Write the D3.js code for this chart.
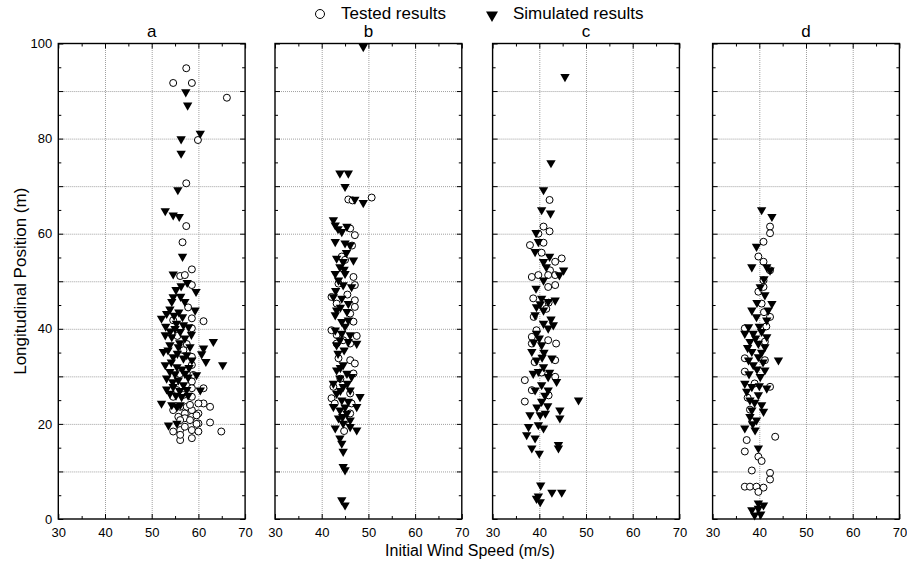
<!DOCTYPE html>
<html>
<head>
<meta charset="utf-8">
<script src="https://cdn.jsdelivr.net/npm/d3@7"></script>
<style>
  body { margin: 0; background: #fff; }
  svg { font-family: "Liberation Sans", Arial, sans-serif; }
  .grid line { stroke: #a0a0a0; stroke-dasharray: 1,1; }
  .grid path { display: none; }
  .ax path { display: none; }
  .ax line { stroke: #000; }
  .ax text { font-size: 13px; fill: #000; }
</style>
</head>
<body>
<svg width="907" height="564"></svg>
<script>
var panelNames = ["a", "b", "c", "d"];
var speedTicks = [30, 40, 50, 60, 70];
var positionTicks = [0, 20, 40, 60, 80, 100];

// [initial wind speed (m/s), longitudinal position (m)]
var testedA = [[57.4,94.8],[54.6,91.7],[58.6,91.7],[66.1,88.6],[59.9,79.7],[57.4,70.6],[57.4,61.6],[56.6,58.2],
  [58.6,52.5],[56.1,51.1],[57.1,51.3],[58.6,49.2],[54.6,41.8],[58.6,42.2],[61.1,41.6],[58.6,40.1],[56.8,35.5],
  [58.6,34.1],[58.6,32.4],[58.9,30.3],[58.6,28.9],[58.6,27.5],[61.1,27.5],[55.4,27.1],[56.8,26.1],[58.6,25.7],
  [54.6,25.7],[61.1,24.3],[62.5,23.6],[60.0,24.3],[56.1,23.6],[57.5,23.6],[58.6,22.9],[54.6,22.9],[60.0,22.2],
  [57.1,22.2],[55.7,21.5],[58.6,21.5],[60.0,20.1],[62.5,20.3],[57.1,21.2],[54.6,18.4],[56.1,18.7],[58.6,18.7],
  [60.0,18.4],[64.9,18.4],[56.1,16.6],[58.6,17.0],[56.1,17.7],[57.1,19.4],[58.2,24.0],[59.6,21.8],[56.1,20.8],
  [58.2,20.8],[59.6,20.0],[57.5,36.8],[55.5,38.5],[57.8,44.5],[56.0,30.5]];
var simulatedA = [[57.3,89.8],[57.7,87.0],[60.4,81.1],[56.3,79.9],[56.3,76.9],[55.6,69.2],[52.9,64.8],[54.6,63.9],
  [55.9,63.6],[56.6,55.2],[54.6,51.5],[57.6,49.7],[56.3,49.0],[59.5,47.8],[54.6,46.7],[57.1,45.7],[54.3,45.7],
  [53.9,44.1],[59.3,43.9],[52.1,42.2],[56.6,42.5],[53.2,43.2],[55.3,41.1],[57.9,40.4],[52.9,38.7],[54.3,38.3],
  [56.1,39.4],[57.1,38.0],[63.2,37.3],[53.9,36.6],[55.7,36.2],[58.2,36.2],[61.1,35.9],[52.5,35.2],[60.7,34.7],
  [54.6,34.1],[56.8,33.8],[58.6,33.4],[61.6,33.1],[65.2,32.4],[52.9,32.4],[55.4,32.0],[53.9,31.0],[57.1,30.6],
  [59.6,30.3],[53.2,29.6],[55.7,29.2],[54.6,27.8],[56.8,28.2],[60.4,27.1],[53.9,26.4],[56.4,25.7],[52.1,24.3],
  [54.3,24.0],[55.4,23.6],[56.1,24.0],[53.6,19.7],[55.4,20.1],[55.0,40.0],[56.0,37.0],[54.0,39.5],[55.5,34.8],
  [57.5,34.5],[54.2,33.0],[56.5,31.5],[55.0,30.5],[58.0,31.8],[54.5,28.8],[57.5,27.2],[55.2,26.0],[53.2,27.3],
  [57.8,29.8],[53.5,35.5],[56.8,40.8],[55.8,43.5],[58.5,38.8],[54.8,42.8],[53.0,40.5],[56.2,46.8],[55.2,48.2],
  [57.8,26.0],[56.0,27.0]];

var testedB = [[45.7,67.2],[46.6,67.0],[50.7,67.6],[46.1,61.1],[47.1,59.7],[44.3,55.2],[45.0,54.5],[46.8,50.9],
  [47.1,49.2],[42.1,46.7],[43.2,45.3],[47.1,46.0],[47.1,44.6],[46.1,43.2],[46.8,41.5],[42.1,39.7],[43.2,38.7],
  [46.1,36.9],[43.2,36.9],[44.6,37.6],[43.6,33.8],[46.1,33.4],[47.1,32.7],[42.5,27.8],[42.1,25.4],[46.1,26.4],
  [46.4,24.3],[46.1,22.2],[45.0,20.8],[46.8,30.6],[44.0,29.5],[45.5,47.2],[47.5,38.5],[42.8,24.3],[44.8,18.5],
  [43.6,49.5],[46.5,57.5]];
var simulatedB = [[48.9,99.3],[43.9,72.7],[45.7,72.7],[45.0,69.9],[47.1,67.2],[48.9,66.5],[42.5,62.9],[42.9,61.8],
  [44.3,60.4],[45.4,61.5],[43.5,61.0],[42.9,58.3],[45.0,58.0],[46.1,57.6],[43.2,54.8],[44.6,54.1],[46.8,54.4],
  [43.9,53.0],[42.9,51.6],[45.0,51.6],[43.6,50.2],[44.6,49.2],[46.4,48.8],[42.5,46.7],[44.3,46.4],[45.7,45.3],
  [43.2,43.9],[45.4,43.6],[42.9,42.9],[44.3,41.5],[45.7,41.8],[42.9,39.7],[44.3,39.0],[46.1,38.7],[43.9,37.6],
  [45.7,37.3],[47.5,36.9],[43.2,36.6],[44.6,32.4],[43.2,31.3],[45.4,30.6],[46.4,29.9],[43.9,29.6],[42.5,28.5],
  [44.6,27.8],[46.1,27.1],[48.2,25.7],[43.2,26.4],[44.3,25.0],[45.7,24.7],[47.5,23.6],[42.5,23.6],[43.9,22.9],
  [45.4,22.2],[43.6,21.2],[46.1,20.8],[44.6,20.1],[46.1,19.4],[42.9,19.1],[47.5,18.7],[43.9,17.0],[44.3,15.9],
  [44.6,14.2],[44.6,11.0],[45.0,10.3],[44.3,4.0],[45.0,2.9],[44.0,44.5],[45.0,40.5],[44.8,35.5],[43.5,34.8],
  [45.5,28.5],[44.0,27.0],[45.0,23.5],[44.5,21.5],[43.0,48.0],[44.8,52.5],[45.3,56.0],[44.0,31.8]];

var testedC = [[42.2,67.1],[40.9,61.5],[42.2,60.5],[39.8,60.0],[40.9,58.1],[38.0,57.6],[44.8,54.8],[43.4,54.1],
  [42.3,52.3],[38.4,50.9],[39.8,51.3],[41.9,51.3],[43.4,51.3],[41.9,48.8],[43.4,49.2],[38.7,46.4],[39.4,39.7],
  [38.4,38.3],[38.4,36.9],[41.9,37.6],[43.6,36.9],[43.4,33.4],[36.9,29.2],[43.4,29.9],[38.4,27.1],[36.9,24.7],
  [40.5,56.0],[42.0,45.5],[38.8,42.5],[41.5,44.2],[40.5,30.8],[42.0,26.0],[39.0,33.0]];
var simulatedC = [[45.5,93.0],[42.5,74.9],[40.9,69.2],[40.5,65.0],[42.4,64.3],[39.3,60.2],[39.8,58.3],[39.1,56.2],
  [42.2,55.2],[40.9,54.1],[41.5,53.0],[45.2,52.3],[44.3,51.3],[39.3,48.5],[40.9,50.2],[40.5,46.4],[41.9,45.7],
  [43.4,46.0],[39.4,44.6],[40.9,43.9],[39.1,42.9],[43.0,40.8],[40.9,41.1],[41.9,40.1],[39.4,39.0],[38.4,35.2],
  [40.5,36.6],[42.7,33.8],[39.4,33.4],[40.9,32.0],[38.7,30.6],[41.9,29.9],[43.7,28.9],[40.5,28.2],[39.1,27.1],
  [41.9,27.1],[48.4,25.0],[40.5,24.7],[44.4,22.9],[41.3,22.2],[38.0,21.9],[40.2,21.9],[44.4,21.2],[39.8,19.8],
  [37.7,19.4],[40.9,19.1],[37.3,17.7],[39.1,17.0],[44.1,15.6],[44.1,14.9],[38.4,14.9],[40.0,13.8],[40.3,7.1],
  [42.7,5.6],[44.8,5.6],[39.4,4.3],[40.2,3.6],[39.8,4.8],[40.0,38.0],[41.0,35.0],[39.8,31.0],[41.2,26.0],
  [39.5,23.5],[41.8,23.8],[40.2,45.2],[42.5,42.0],[38.8,37.2],[40.6,34.0],[42.2,30.8]];

var testedD = [[42.3,61.5],[42.3,60.1],[40.9,58.3],[39.8,55.2],[40.9,54.1],[42.3,52.3],[40.9,50.2],[40.9,48.8],
  [39.8,47.8],[40.5,45.3],[42.3,42.5],[36.9,40.1],[41.2,37.3],[36.9,33.8],[41.2,33.4],[36.9,31.0],[42.3,27.8],
  [43.4,17.3],[37.3,16.6],[36.9,14.2],[38.4,10.2],[42.3,9.7],[42.3,8.3],[36.9,6.8],[38.0,6.8],[39.4,6.8],
  [40.9,6.6],[39.8,5.7],[39.8,13.1],[40.5,12.2],[38.5,20.5],[41.5,40.5],[37.5,25.5],[39.0,28.5],[41.0,43.5],
  [38.0,23.0]];
var simulatedD = [[40.5,65.0],[42.7,63.6],[39.4,57.3],[38.4,53.0],[41.6,53.0],[42.3,52.3],[40.2,48.8],[41.2,47.1],
  [42.7,45.3],[41.9,43.9],[38.4,43.9],[39.4,42.5],[41.6,41.8],[37.7,40.4],[36.9,39.0],[38.7,39.0],[40.5,39.4],
  [41.6,38.3],[38.0,37.3],[39.8,36.9],[41.2,36.2],[38.4,35.2],[39.8,34.1],[44.1,33.4],[37.7,33.4],[38.7,32.4],
  [41.2,31.3],[40.2,29.9],[36.9,28.5],[38.4,27.8],[41.6,27.5],[37.3,26.8],[39.8,26.1],[38.0,25.0],[40.5,24.0],
  [38.4,22.9],[40.9,22.6],[38.0,21.5],[39.4,20.8],[36.9,19.1],[39.1,18.7],[39.8,14.9],[39.8,3.3],[40.9,2.9],
  [38.4,1.9],[39.8,2.2],[39.0,0.8],[40.3,1.0],[39.5,45.5],[40.0,40.5],[39.2,38.0],[40.5,35.0],[39.5,31.5],
  [37.8,30.5],[40.8,33.0],[39.0,24.5],[40.0,28.0],[38.6,20.0],[37.5,36.0],[41.0,50.5]];

var tested = [testedA, testedB, testedC, testedD];
var simulated = [simulatedA, simulatedB, simulatedC, simulatedD];

var panelLeft = [58.3, 275, 492.6, 712.6];
var panelWidth = 186.8;
var plotTop = 43.5, plotBottom = 519;

var svg = d3.select("svg");

var yScale = d3.scaleLinear().domain([0, 100]).range([plotBottom, plotTop]);
var tri = d3.symbol().type(d3.symbolTriangle).size(38);
var triBig = d3.symbol().type(d3.symbolTriangle).size(62);

panelNames.forEach(function(name, i) {
  var xScale = d3.scaleLinear().domain([30, 70]).range([panelLeft[i], panelLeft[i] + panelWidth]);
  var g = svg.append("g");

  // dotted grid
  g.append("g").attr("class", "grid")
      .attr("transform", "translate(0," + plotBottom + ")")
      .call(d3.axisBottom(xScale).tickValues([40, 50, 60]).tickSize(-(plotBottom - plotTop)).tickFormat(""));
  g.append("g").attr("class", "grid")
      .attr("transform", "translate(" + xScale(30) + ",0)")
      .call(d3.axisLeft(yScale).tickValues(d3.range(10, 100, 10)).tickSize(-panelWidth).tickFormat(""));

  // inward ticks on every side
  var minorX = [35, 45, 55, 65], minorY = d3.range(5, 100, 10);
  g.append("g").attr("class", "ax").attr("transform", "translate(0," + plotBottom + ")")
      .call(d3.axisBottom(xScale).tickValues(speedTicks).tickSizeInner(-5).tickSizeOuter(0).tickPadding(9));
  g.append("g").attr("class", "ax").attr("transform", "translate(0," + plotBottom + ")")
      .call(d3.axisBottom(xScale).tickValues(minorX).tickSize(-3).tickFormat(""));
  g.append("g").attr("class", "ax").attr("transform", "translate(0," + plotTop + ")")
      .call(d3.axisTop(xScale).tickValues(speedTicks).tickSize(-5).tickFormat(""));
  g.append("g").attr("class", "ax").attr("transform", "translate(0," + plotTop + ")")
      .call(d3.axisTop(xScale).tickValues(minorX).tickSize(-3).tickFormat(""));

  g.append("g").attr("class", "ax").attr("transform", "translate(" + xScale(30) + ",0)")
      .call(d3.axisLeft(yScale).tickValues(d3.range(0, 101, 10)).tickSizeInner(-5).tickSizeOuter(0).tickPadding(6)
      .tickFormat(function(v) { return (i === 0 && positionTicks.indexOf(v) >= 0) ? v : ""; }));
  g.append("g").attr("class", "ax").attr("transform", "translate(" + xScale(30) + ",0)")
      .call(d3.axisLeft(yScale).tickValues(minorY).tickSize(-3).tickFormat(""));
  g.append("g").attr("class", "ax").attr("transform", "translate(" + xScale(70) + ",0)")
      .call(d3.axisRight(yScale).tickValues(d3.range(0, 101, 10)).tickSize(-5).tickFormat(""));
  g.append("g").attr("class", "ax").attr("transform", "translate(" + xScale(70) + ",0)")
      .call(d3.axisRight(yScale).tickValues(minorY).tickSize(-3).tickFormat(""));

  g.append("rect")
      .attr("x", xScale(30)).attr("y", plotTop)
      .attr("width", panelWidth).attr("height", plotBottom - plotTop)
      .attr("fill", "none").attr("stroke", "#000").attr("stroke-width", 1.4);

  // markers
  g.append("g").selectAll("circle")
    .data(tested[i])
    .enter().append("circle")
      .attr("cx", d => xScale(d[0]))
      .attr("cy", d => yScale(d[1]))
      .attr("r", 3.5)
      .attr("fill", "#fff")
      .attr("stroke", "#000")
      .attr("stroke-width", 1);

  g.append("g").selectAll("path")
    .data(simulated[i])
    .enter().append("path")
      .attr("d", tri)
      .attr("transform", d => "translate(" + xScale(d[0]) + "," + yScale(d[1]) + ") rotate(180)")
      .attr("fill", "#000");

  g.append("text")
      .attr("x", xScale(50))
      .attr("y", 37)
      .attr("text-anchor", "middle")
      .style("font-size", "17px")
      .text(name);
});

// legend
svg.append("circle").attr("cx", 320).attr("cy", 14).attr("r", 4.5)
    .attr("fill", "#fff").attr("stroke", "#000").attr("stroke-width", 1);
svg.append("text").attr("x", 341).attr("y", 19).style("font-size", "17px").text("Tested results");
svg.append("path").attr("d", triBig)
    .attr("transform", "translate(492,15) rotate(180)").attr("fill", "#000");
svg.append("text").attr("x", 513).attr("y", 19).style("font-size", "17px").text("Simulated results");

// axis titles
svg.append("text")
    .attr("x", 470).attr("y", 556)
    .attr("text-anchor", "middle")
    .style("font-size", "16px")
    .text("Initial Wind Speed (m/s)");

svg.append("text")
    .attr("transform", "rotate(-90)")
    .attr("x", -(plotTop + plotBottom) / 2)
    .attr("y", 26)
    .attr("text-anchor", "middle")
    .style("font-size", "17px")
    .text("Longitudinal Position (m)");
</script>
</body>
</html>
